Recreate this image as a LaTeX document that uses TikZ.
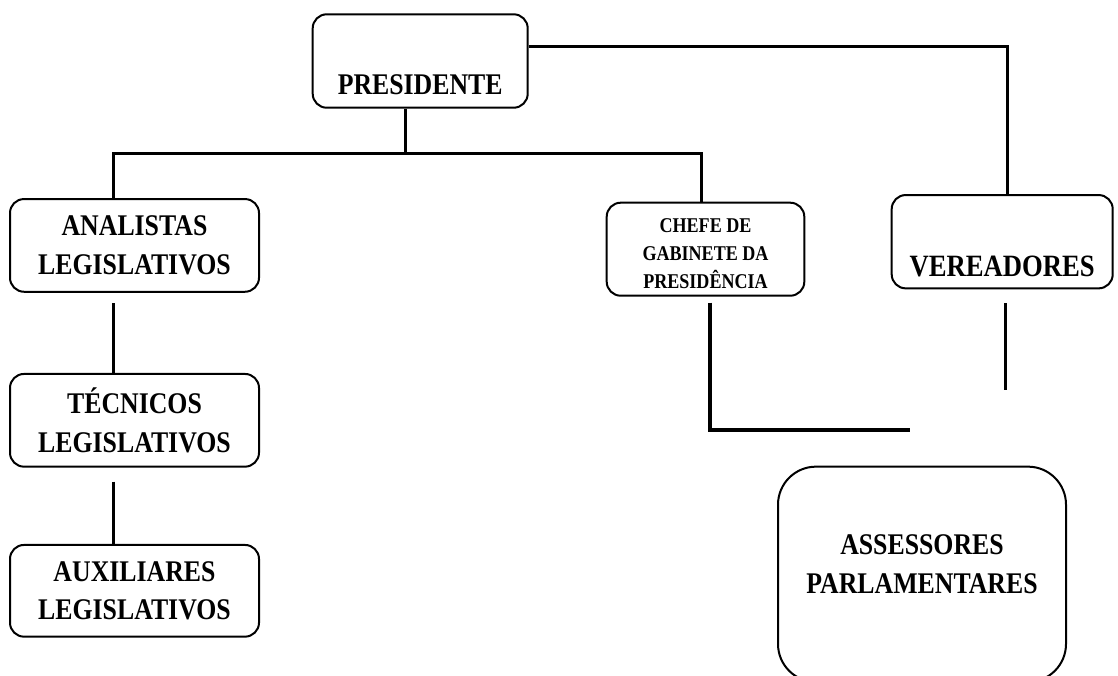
\documentclass[tikz,border=0pt]{standalone}
\usepackage{fontspec}
\newfontfamily\cambfont[FakeStretch=0.86]{Liberation Serif Bold}
\begin{document}
\begin{tikzpicture}[x=1pt,y=-1pt,
  box/.style={draw, line width=2pt, rounded corners=14pt, align=center, inner sep=0pt},
  big/.style={font=\cambfont\fontsize{30}{38.3}\selectfont},
  small/.style={font=\cambfont\fontsize{21}{28}\selectfont},
  conn/.style={line width=3pt},
  heavyconn/.style={line width=4pt},
  every label/.style={align=center, inner sep=0pt}]
\useasboundingbox (0,0) rectangle (1118,675);
% boxes
\node[box, minimum width=215pt, minimum height=93.4pt,
  label={[big, yshift=-24pt]center:PRESIDENTE}] (pres) at (420.2,61) {};
\node[box, big, minimum width=249pt, minimum height=92.7pt] (ana) at (134.5,245.4) {ANALISTAS\\LEGISLATIVOS};
\node[box, big, minimum width=249pt, minimum height=92.7pt] (tec) at (134.5,420.3) {TÉCNICOS\\LEGISLATIVOS};
\node[box, big, minimum width=249pt, minimum height=91.7pt] (aux) at (134.5,590.8) {AUXILIARES\\LEGISLATIVOS};
\node[box, minimum width=197.6pt, minimum height=93pt,
  label={[small, yshift=-4.5pt]center:CHEFE DE\\GABINETE DA\\PRESIDÊNCIA}] (chefe) at (705.5,249.2) {};
\node[box, minimum width=221pt, minimum height=93.3pt,
  label={[font=\cambfont\fontsize{31}{38}\selectfont, yshift=-24.3pt]center:VEREADORES}] (ver) at (1002.2,241.7) {};
\node[box, rounded corners=38pt, minimum width=288pt, minimum height=215.3pt,
  label={[big, yshift=10pt]center:ASSESSORES\\PARLAMENTARES}] (ass) at (922,574.3) {};
% connectors
\coordinate (jL) at (113,153.3);
\coordinate (jR) at (701,153.3);
\coordinate (jP) at (405.3,153.3);
\coordinate (kV) at (1007,46.7);
\draw[conn] (jP |- pres.south) -- (jP);
\draw[conn] (jL |- ana.north) -- (jL) -- (jR) -- (jR |- chefe.north);
\draw[conn] (pres.east |- kV) -- (kV) -- (kV |- ver.north);
\coordinate (a1) at (113,303);
\draw[conn] (a1) -- (a1 |- tec.north);
\coordinate (t1) at (113,481.7);
\draw[conn] (t1) -- (t1 |- aux.north);
\coordinate (c1) at (710,302.7);
\coordinate (c2) at (910,430);
\draw[heavyconn] (c1) |- (c2);
\coordinate (v1) at (1005,303);
\coordinate (v2) at (1005,390);
\draw[conn] (v1) -- (v2);
\end{tikzpicture}
\end{document}
